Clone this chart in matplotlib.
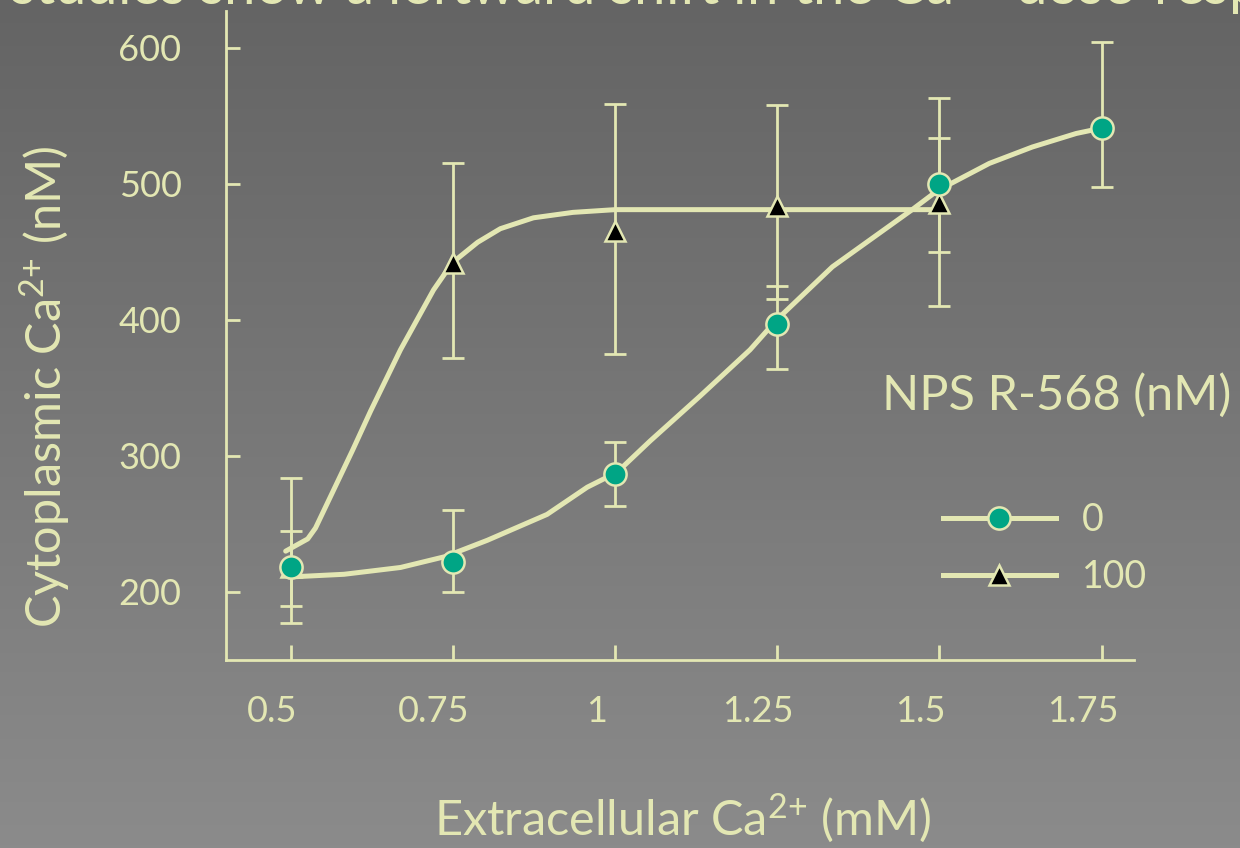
import matplotlib

matplotlib.use("Agg")
import matplotlib.pyplot as plt
import numpy as np
from matplotlib.lines import Line2D
from matplotlib.transforms import ScaledTranslation

# extracellular Ca2+ (mM) at which cytoplasmic Ca2+ was measured
CA_EXT = [0.5, 0.75, 1.0, 1.25, 1.5, 1.75]

# NPS R-568 = 0 nM (circles): mean and error bar ends (nM)
CTRL_MEAN = [218, 222, 287, 397, 500, 541]
CTRL_TOP = [245, 260, 310, 425, 534, 604]
CTRL_BOT = [190, 200, 263, 364, 450, 498]

# NPS R-568 = 100 nM (triangles)
NPS_X = [0.5, 0.75, 1.0, 1.25, 1.5]
NPS_MEAN = [218, 442, 465, 484, 486]
NPS_TOP = [284, 515, 559, 558, 563]
NPS_BOT = [177, 372, 375, 415, 410]

# hand-drawn fit curves
CTRL_CURVE_X = [0.497, 0.582, 0.669, 0.738, 0.803, 0.895, 0.957, 1.003, 1.054,
                1.131, 1.208, 1.249, 1.335, 1.458, 1.497, 1.577, 1.643, 1.711, 1.751]
CTRL_CURVE_Y = [211, 213, 218, 226, 238, 257, 277, 288, 311,
                344, 378, 400, 439, 481, 495, 515, 527, 537, 541]
NPS_CURVE_X = [0.492, 0.526, 0.538, 0.595, 0.623, 0.669, 0.720, 0.749, 0.788,
               0.823, 0.874, 0.935, 1.0, 1.5]
NPS_CURVE_Y = [230, 239, 247, 304, 333, 378, 422, 442, 457,
               467, 475, 479, 481, 481]

X_TICKS = [0.5, 0.75, 1.0, 1.25, 1.5, 1.75]
X_TICK_LABELS = ["0.5", "0.75", "1", "1.25", "1.5", "1.75"]
Y_TICKS = [200, 300, 400, 500, 600]
LEGEND_LABELS = ["0", "100"]

PALE = "#e3e7b3"
TEAL = "#00a585"

plt.rcParams["font.family"] = ["Lato", "DejaVu Sans"]
plt.rcParams["mathtext.fontset"] = "custom"
plt.rcParams["mathtext.rm"] = "Lato"
plt.rcParams["mathtext.it"] = "Lato:italic"
plt.rcParams["mathtext.bf"] = "Lato:bold"

fig = plt.figure(figsize=(12.4, 8.48), dpi=100)

# grey gradient backdrop
bg = fig.add_axes([0, 0, 1, 1], zorder=-10)
grad = np.linspace(0, 1, 256)[:, None]
bg.imshow(grad, aspect="auto", cmap=matplotlib.colors.LinearSegmentedColormap.from_list(
    "bg", ["#646464", "#8b8b8b"]), extent=[0, 1, 0, 1])
bg.set_axis_off()

ax = fig.add_axes([226 / 1240, 1 - 660 / 848, 908 / 1240, 649 / 848])
ax.patch.set_alpha(0)

ax.plot(CTRL_CURVE_X, CTRL_CURVE_Y, color=PALE, lw=3.6, solid_joinstyle="round",
        solid_capstyle="round", zorder=2)
ax.plot(NPS_CURVE_X, NPS_CURVE_Y, color=PALE, lw=3.6, solid_joinstyle="round",
        solid_capstyle="round", zorder=2)

err_kw = dict(fmt="none", ecolor=PALE, elinewidth=2, capsize=8, capthick=2, zorder=3)
ax.errorbar(NPS_X, NPS_MEAN,
            yerr=[np.subtract(NPS_MEAN, NPS_BOT), np.subtract(NPS_TOP, NPS_MEAN)], **err_kw)
ax.errorbar(CA_EXT, CTRL_MEAN,
            yerr=[np.subtract(CTRL_MEAN, CTRL_BOT), np.subtract(CTRL_TOP, CTRL_MEAN)], **err_kw)

ax.plot(NPS_X, NPS_MEAN, ls="none", marker="^", ms=14, mfc="black", mec=PALE,
        mew=1.8, zorder=4)
ax.plot(CA_EXT, CTRL_MEAN, ls="none", marker="o", ms=16, mfc=TEAL, mec=PALE,
        mew=1.8, zorder=5)

ax.set_xlim(0.4, 1.8)
ax.set_ylim(150, 627)
ax.set_xticks(X_TICKS, X_TICK_LABELS)
ax.set_yticks(Y_TICKS)
for s in ["top", "right"]:
    ax.spines[s].set_visible(False)
for s in ["left", "bottom"]:
    ax.spines[s].set_color(PALE)
    ax.spines[s].set_linewidth(2)
ax.tick_params(axis="x", direction="in", length=11, width=2, color=PALE,
               labelcolor=PALE, labelsize=26, pad=25)
ax.tick_params(axis="y", direction="in", length=10, width=2, color=PALE,
               labelcolor=PALE, labelsize=26, pad=32)
# x labels in the original sit a little left of their ticks
shift = ScaledTranslation(-19 / 100, 0, fig.dpi_scale_trans)
for lab in ax.get_xticklabels():
    lab.set_transform(lab.get_transform() + shift)

fig.text(45 / 1240, 1 - 387 / 848, r"Cytoplasmic Ca$^{2{+}}$ (nM)", rotation=90,
         ha="center", va="center", color=PALE, fontsize=35)
fig.text(683 / 1240, 1 - 818 / 848, r"Extracellular Ca$^{2{+}}$ (mM)",
         ha="center", va="center", color=PALE, fontsize=35)
fig.text(10 / 1240, 1 - 5 / 848,
         r"studies show a leftward shift in the Ca$^{2{+}}$ dose-response",
         ha="left", va="baseline", color=PALE, fontsize=40.5)

# legend
fig.text(1057 / 1240, 1 - 395 / 848, "NPS R-568 (nM)", ha="center", va="center",
         color=PALE, fontsize=35)
handles = [
    Line2D([], [], color=PALE, lw=3.6, marker="o", ms=16, mfc=TEAL, mec=PALE, mew=1.8),
    Line2D([], [], color=PALE, lw=3.6, marker="^", ms=14, mfc="black", mec=PALE, mew=1.8),
]
leg = ax.legend(handles, LEGEND_LABELS, loc="center left",
                bbox_to_anchor=(943 / 1240, 1 - 548.5 / 848),
                bbox_transform=fig.transFigure, frameon=False, fontsize=27,
                handlelength=3.0, handletextpad=0.7, labelspacing=0.58,
                borderpad=0, borderaxespad=0, numpoints=1)
for t in leg.get_texts():
    t.set_color(PALE)

fig.savefig("out.png", dpi=100)
